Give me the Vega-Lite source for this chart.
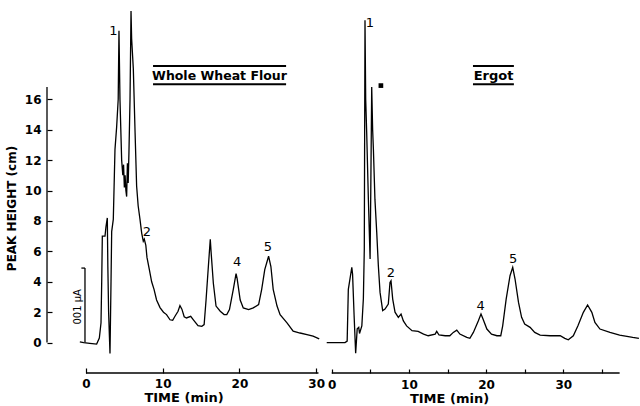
{
  "$schema": "https://vega.github.io/schema/vega-lite/v6.json",
  "background": "white",
  "padding": {"left": 5, "top": 5, "right": 0, "bottom": 0},
  "spacing": 0,
  "bounds": "flush",
  "config": {
    "view": {"stroke": null},
    "font": "DejaVu Sans",
    "axis": {"labelColor": "black", "titleColor": "black", "tickColor": "black", "grid": false, "domain": false, "labelFont": "DejaVu Sans", "titleFont": "DejaVu Sans", "labelFontSize": 12, "labelFontWeight": "bold", "titleFontSize": 12, "titleFontWeight": "bold", "tickWidth": 1.2}
  },
  "datasets": {
    "wheat": [
      {"i":0,"t":-0.8,"v":0.05},{"i":1,"t":-0.3,"v":0.0},{"i":2,"t":0.5,"v":-0.05},{"i":3,"t":1.39,"v":-0.1},{"i":4,"t":1.74,"v":0.3},{"i":5,"t":1.96,"v":1.3},{"i":6,"t":2.05,"v":4.0},{"i":7,"t":2.13,"v":7.0},{"i":8,"t":2.48,"v":7.0},{"i":9,"t":2.6,"v":7.6},{"i":10,"t":2.78,"v":8.2},{"i":11,"t":2.85,"v":5.0},{"i":12,"t":2.95,"v":2.0},{"i":13,"t":3.13,"v":-0.72},{"i":14,"t":3.25,"v":3.5},{"i":15,"t":3.35,"v":7.3},{"i":16,"t":3.56,"v":8.1},{"i":17,"t":3.7,"v":11.0},{"i":18,"t":3.78,"v":12.7},{"i":19,"t":4.0,"v":14.2},{"i":20,"t":4.2,"v":16.0},{"i":21,"t":4.3,"v":20.5},{"i":22,"t":4.43,"v":16.0},{"i":23,"t":4.65,"v":12.0},{"i":24,"t":4.8,"v":11.0},{"i":25,"t":4.9,"v":11.7},{"i":26,"t":5.0,"v":10.2},{"i":27,"t":5.1,"v":11.0},{"i":28,"t":5.2,"v":10.0},{"i":29,"t":5.3,"v":9.6},{"i":30,"t":5.4,"v":11.8},{"i":31,"t":5.5,"v":10.5},{"i":32,"t":5.6,"v":12.5},{"i":33,"t":5.74,"v":16.0},{"i":34,"t":5.87,"v":21.8},{"i":35,"t":5.95,"v":20.0},{"i":36,"t":6.17,"v":18.0},{"i":37,"t":6.4,"v":13.8},{"i":38,"t":6.6,"v":10.3},{"i":39,"t":6.8,"v":9.0},{"i":40,"t":7.04,"v":8.1},{"i":41,"t":7.26,"v":7.2},{"i":42,"t":7.47,"v":6.67},{"i":43,"t":7.6,"v":6.8},{"i":44,"t":7.8,"v":6.4},{"i":45,"t":7.95,"v":5.6},{"i":46,"t":8.26,"v":4.8},{"i":47,"t":8.56,"v":4.0},{"i":48,"t":8.87,"v":3.5},{"i":49,"t":9.2,"v":2.8},{"i":50,"t":9.65,"v":2.3},{"i":51,"t":10.1,"v":2.0},{"i":52,"t":10.5,"v":1.84},{"i":53,"t":10.95,"v":1.5},{"i":54,"t":11.3,"v":1.47},{"i":55,"t":11.6,"v":1.73},{"i":56,"t":12.0,"v":2.06},{"i":57,"t":12.25,"v":2.43},{"i":58,"t":12.5,"v":2.2},{"i":59,"t":12.8,"v":1.7},{"i":60,"t":13.1,"v":1.62},{"i":61,"t":13.65,"v":1.73},{"i":62,"t":14.0,"v":1.5},{"i":63,"t":14.6,"v":1.12},{"i":64,"t":15.1,"v":1.07},{"i":65,"t":15.4,"v":1.18},{"i":66,"t":15.65,"v":2.8},{"i":67,"t":15.95,"v":5.0},{"i":68,"t":16.2,"v":6.8},{"i":69,"t":16.3,"v":6.0},{"i":70,"t":16.6,"v":3.9},{"i":71,"t":16.95,"v":2.4},{"i":72,"t":17.5,"v":2.06},{"i":73,"t":18.0,"v":1.84},{"i":74,"t":18.35,"v":1.84},{"i":75,"t":18.7,"v":2.17},{"i":76,"t":19.2,"v":3.5},{"i":77,"t":19.56,"v":4.54},{"i":78,"t":19.7,"v":4.2},{"i":79,"t":20.1,"v":2.8},{"i":80,"t":20.5,"v":2.28},{"i":81,"t":21.2,"v":2.17},{"i":82,"t":21.8,"v":2.28},{"i":83,"t":22.5,"v":2.5},{"i":84,"t":22.9,"v":3.5},{"i":85,"t":23.3,"v":4.8},{"i":86,"t":23.8,"v":5.68},{"i":87,"t":24.1,"v":5.0},{"i":88,"t":24.4,"v":3.5},{"i":89,"t":24.9,"v":2.4},{"i":90,"t":25.3,"v":1.84},{"i":91,"t":26.2,"v":1.3},{"i":92,"t":27.0,"v":0.75},{"i":93,"t":27.9,"v":0.63},{"i":94,"t":28.8,"v":0.53},{"i":95,"t":29.6,"v":0.42},{"i":96,"t":30.4,"v":0.24}
    ],
    "ergot": [
      {"i":0,"t":-0.65,"v":0.0},{"i":1,"t":1.72,"v":0.0},{"i":2,"t":2.0,"v":0.1},{"i":3,"t":2.15,"v":3.5},{"i":4,"t":2.37,"v":4.2},{"i":5,"t":2.6,"v":4.95},{"i":6,"t":2.7,"v":4.5},{"i":7,"t":2.9,"v":1.76},{"i":8,"t":3.1,"v":-0.7},{"i":9,"t":3.3,"v":0.9},{"i":10,"t":3.5,"v":1.0},{"i":11,"t":3.6,"v":0.6},{"i":12,"t":3.9,"v":1.1},{"i":13,"t":4.1,"v":2.9},{"i":14,"t":4.22,"v":6.15},{"i":15,"t":4.31,"v":21.2},{"i":16,"t":4.4,"v":16.0},{"i":17,"t":4.53,"v":13.8},{"i":18,"t":4.75,"v":9.4},{"i":19,"t":4.97,"v":5.5},{"i":20,"t":5.06,"v":10.0},{"i":21,"t":5.18,"v":16.8},{"i":22,"t":5.3,"v":14.0},{"i":23,"t":5.4,"v":12.7},{"i":24,"t":5.6,"v":9.4},{"i":25,"t":5.83,"v":7.25},{"i":26,"t":6.04,"v":5.05},{"i":27,"t":6.26,"v":3.3},{"i":28,"t":6.6,"v":2.1},{"i":29,"t":6.9,"v":2.2},{"i":30,"t":7.33,"v":2.53},{"i":31,"t":7.55,"v":3.96},{"i":32,"t":7.68,"v":4.07},{"i":33,"t":7.9,"v":2.86},{"i":34,"t":8.2,"v":2.0},{"i":35,"t":8.63,"v":1.66},{"i":36,"t":8.98,"v":1.88},{"i":37,"t":9.28,"v":1.43},{"i":38,"t":9.7,"v":1.1},{"i":39,"t":10.4,"v":0.78},{"i":40,"t":11.2,"v":0.74},{"i":41,"t":11.9,"v":0.56},{"i":42,"t":12.5,"v":0.45},{"i":43,"t":13.4,"v":0.56},{"i":44,"t":13.6,"v":0.74},{"i":45,"t":13.9,"v":0.5},{"i":46,"t":14.7,"v":0.45},{"i":47,"t":15.3,"v":0.45},{"i":48,"t":15.75,"v":0.67},{"i":49,"t":16.2,"v":0.82},{"i":50,"t":16.6,"v":0.56},{"i":51,"t":17.5,"v":0.34},{"i":52,"t":17.9,"v":0.28},{"i":53,"t":18.35,"v":0.67},{"i":54,"t":19.0,"v":1.43},{"i":55,"t":19.34,"v":1.88},{"i":56,"t":19.6,"v":1.55},{"i":57,"t":20.1,"v":0.89},{"i":58,"t":20.7,"v":0.56},{"i":59,"t":21.4,"v":0.45},{"i":60,"t":21.9,"v":0.45},{"i":61,"t":22.15,"v":1.1},{"i":62,"t":22.6,"v":2.86},{"i":63,"t":23.1,"v":4.4},{"i":64,"t":23.45,"v":4.95},{"i":65,"t":23.75,"v":4.18},{"i":66,"t":24.2,"v":2.64},{"i":67,"t":24.6,"v":1.66},{"i":68,"t":25.0,"v":1.22},{"i":69,"t":25.7,"v":1.0},{"i":70,"t":26.3,"v":0.67},{"i":71,"t":27.0,"v":0.49},{"i":72,"t":28.3,"v":0.45},{"i":73,"t":29.6,"v":0.45},{"i":74,"t":30.2,"v":0.28},{"i":75,"t":30.65,"v":0.18},{"i":76,"t":31.3,"v":0.45},{"i":77,"t":31.9,"v":1.1},{"i":78,"t":32.6,"v":1.99},{"i":79,"t":33.15,"v":2.47},{"i":80,"t":33.7,"v":1.99},{"i":81,"t":34.1,"v":1.33},{"i":82,"t":34.75,"v":0.89},{"i":83,"t":36.05,"v":0.67},{"i":84,"t":37.3,"v":0.49},{"i":85,"t":39.0,"v":0.34},{"i":86,"t":39.8,"v":0.28}
    ],
    "rulesW": [
      {"x":-5.08,"x2":-5.08,"y":0,"y2":16.8},
      {"x":0,"x2":30.3,"y":-2,"y2":-2},
      {"x":-0.13,"x2":-0.13,"y":0,"y2":4.9},
      {"x":-0.6,"x2":-0.13,"y":4.9,"y2":4.9}
    ],
    "titleRulesW": [
      {"x":8.74,"x2":26.08,"y":18.19,"y2":18.19},
      {"x":8.74,"x2":26.08,"y":16.99,"y2":16.99}
    ],
    "rulesE": [
      {"x":0,"x2":37.3,"y":-2,"y2":-2}
    ],
    "titleRulesE": [
      {"x":18.3,"x2":23.6,"y":18.19,"y2":18.19},
      {"x":18.3,"x2":23.6,"y":16.99,"y2":16.99}
    ],
    "peaksW": [
      {"t":3.56,"v":20.5,"label":"1"},{"t":7.95,"v":7.28,"label":"2"},{"t":19.7,"v":5.3,"label":"4"},{"t":23.7,"v":6.3,"label":"5"}
    ],
    "peaksE": [
      {"t":4.95,"v":21.0,"label":"1"},{"t":7.68,"v":4.6,"label":"2"},{"t":19.3,"v":2.4,"label":"4"},{"t":23.5,"v":5.5,"label":"5"}
    ],
    "markE": [{"t":6.37,"v":16.9}],
    "titleW": [{"t":17.4,"v":17.55,"label":"Whole Wheat Flour"}],
    "titleE": [{"t":20.96,"v":17.55,"label":"Ergot"}],
    "scaleLabel": [{"t":-1.04,"v":2.35,"label":"001 µA"}]
  },
  "hconcat": [
    {
      "width": 273,
      "height": 368,
      "layer": [
        {
          "data": {"name": "wheat"},
          "mark": {"type": "line", "color": "black", "strokeWidth": 1.3},
          "encoding": {
            "x": {"field": "t", "type": "quantitative", "scale": {"domain": [-5.08, 30.5], "nice": false, "zero": false},
              "axis": {"values": [0, 10, 20, 30], "tickSize": -5, "labelPadding": 10, "title": "TIME (min)", "titlePadding": 2, "titleFontSize": 13}},
            "y": {"field": "v", "type": "quantitative", "scale": {"domain": [-2, 22.2], "nice": false, "zero": false},
              "axis": {"values": [0, 2, 4, 6, 8, 10, 12, 14, 16], "tickSize": -5, "labelPadding": 11, "title": "PEAK HEIGHT (cm)", "titlePadding": 6, "titleY": 203}},
            "order": {"field": "i", "type": "quantitative"}
          }
        },
        {
          "data": {"name": "rulesW"},
          "mark": {"type": "rule", "color": "black", "strokeWidth": 1.3},
          "encoding": {
            "x": {"field": "x", "type": "quantitative"},
            "x2": {"field": "x2"},
            "y": {"field": "y", "type": "quantitative"},
            "y2": {"field": "y2"}
          }
        },
        {
          "data": {"name": "titleRulesW"},
          "mark": {"type": "rule", "color": "black", "strokeWidth": 2},
          "encoding": {
            "x": {"field": "x", "type": "quantitative"},
            "x2": {"field": "x2"},
            "y": {"field": "y", "type": "quantitative"},
            "y2": {"field": "y2"}
          }
        },
        {
          "data": {"name": "peaksW"},
          "mark": {"type": "text", "fontSize": 13, "font": "DejaVu Sans", "color": "black", "baseline": "middle"},
          "encoding": {
            "x": {"field": "t", "type": "quantitative"},
            "y": {"field": "v", "type": "quantitative"},
            "text": {"field": "label"}
          }
        },
        {
          "data": {"name": "titleW"},
          "mark": {"type": "text", "fontSize": 12.5, "fontWeight": "bold", "font": "DejaVu Sans", "color": "black", "baseline": "middle"},
          "encoding": {
            "x": {"field": "t", "type": "quantitative"},
            "y": {"field": "v", "type": "quantitative"},
            "text": {"field": "label"}
          }
        },
        {
          "data": {"name": "scaleLabel"},
          "mark": {"type": "text", "fontSize": 10, "font": "DejaVu Sans", "color": "black", "baseline": "middle", "angle": 270},
          "encoding": {
            "x": {"field": "t", "type": "quantitative"},
            "y": {"field": "v", "type": "quantitative"},
            "text": {"field": "label"}
          }
        }
      ]
    },
    {
      "width": 320,
      "height": 368,
      "layer": [
        {
          "data": {"name": "ergot"},
          "mark": {"type": "line", "color": "black", "strokeWidth": 1.3},
          "encoding": {
            "x": {"field": "t", "type": "quantitative", "scale": {"domain": [-1.52, 39.94], "nice": false, "zero": false},
              "axis": {"values": [0, 5, 10, 15, 20, 25, 30, 35], "labelExpr": "datum.value % 10 == 0 ? datum.label : ''", "tickSize": -4, "labelPadding": 10, "title": "TIME (min)", "titlePadding": 2, "titleFontSize": 13, "titleX": 129}},
            "y": {"field": "v", "type": "quantitative", "scale": {"domain": [-2, 22.2], "nice": false, "zero": false}, "axis": null},
            "order": {"field": "i", "type": "quantitative"}
          }
        },
        {
          "data": {"name": "rulesE"},
          "mark": {"type": "rule", "color": "black", "strokeWidth": 1.3},
          "encoding": {
            "x": {"field": "x", "type": "quantitative"},
            "x2": {"field": "x2"},
            "y": {"field": "y", "type": "quantitative"},
            "y2": {"field": "y2"}
          }
        },
        {
          "data": {"name": "titleRulesE"},
          "mark": {"type": "rule", "color": "black", "strokeWidth": 2},
          "encoding": {
            "x": {"field": "x", "type": "quantitative"},
            "x2": {"field": "x2"},
            "y": {"field": "y", "type": "quantitative"},
            "y2": {"field": "y2"}
          }
        },
        {
          "data": {"name": "peaksE"},
          "mark": {"type": "text", "fontSize": 13, "font": "DejaVu Sans", "color": "black", "baseline": "middle"},
          "encoding": {
            "x": {"field": "t", "type": "quantitative"},
            "y": {"field": "v", "type": "quantitative"},
            "text": {"field": "label"}
          }
        },
        {
          "data": {"name": "markE"},
          "mark": {"type": "square", "size": 22, "filled": true, "color": "black", "opacity": 1},
          "encoding": {
            "x": {"field": "t", "type": "quantitative"},
            "y": {"field": "v", "type": "quantitative"}
          }
        },
        {
          "data": {"name": "titleE"},
          "mark": {"type": "text", "fontSize": 13, "fontWeight": "bold", "font": "DejaVu Sans", "color": "black", "baseline": "middle"},
          "encoding": {
            "x": {"field": "t", "type": "quantitative"},
            "y": {"field": "v", "type": "quantitative"},
            "text": {"field": "label"}
          }
        }
      ]
    }
  ]
}
